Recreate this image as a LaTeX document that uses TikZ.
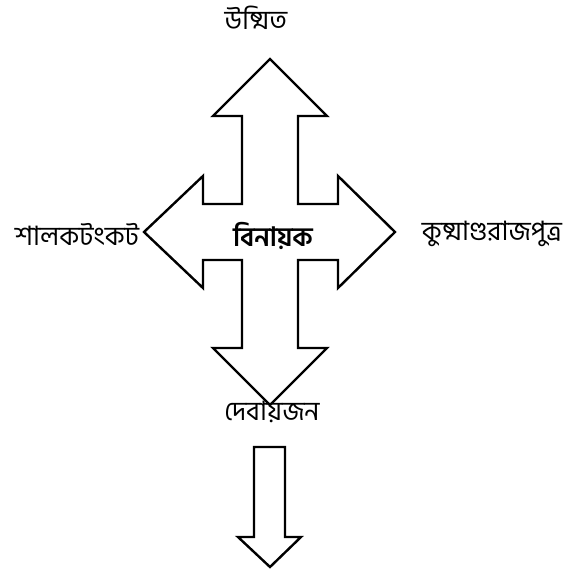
\documentclass[tikz,border=0pt]{standalone}
\usepackage{fontspec}
\newfontfamily\bn[Script=Bengali]{Hind Siliguri}
\begin{document}
\begin{tikzpicture}[x=0.75pt,y=-0.75pt,
  outline/.style={draw=black,line width=1.8pt,line join=miter,fill=white},
  lbl/.style={font=\bn\fontsize{20}{22}\selectfont,inner sep=0pt}]
\useasboundingbox (0,0) rectangle (588,574);
% four-way arrow
\draw[outline] (270,59) -- (327,116) -- (298,116) -- (298,204) -- (338,204) -- (338,176)
  -- (395,232) -- (338,288) -- (338,260) -- (298,260) -- (298,348) -- (327,348)
  -- (270,405) -- (213,348) -- (242,348) -- (242,260) -- (203,260) -- (203,288)
  -- (144,232) -- (203,176) -- (203,204) -- (242,204) -- (242,116) -- (213,116) -- cycle;
% lower arrow
\draw[outline] (254,447) -- (285,447) -- (285,537) -- (301,537) -- (270,567)
  -- (238,537) -- (254,537) -- cycle;
\node[lbl] (top) at (256,18) {উষ্মিত};
\node[lbl] (left) at (77,234) {শালকটংকট};
\node[lbl] (right) at (492,234) {কুষ্মাণ্ডরাজপুত্র};
\node[lbl,font=\bn\bfseries\fontsize{20}{22}\selectfont] (center) at (273,236) {বিনায়ক};
\node[lbl] (bottom) at (272,412) {দেবায়জন};
\end{tikzpicture}
\end{document}
